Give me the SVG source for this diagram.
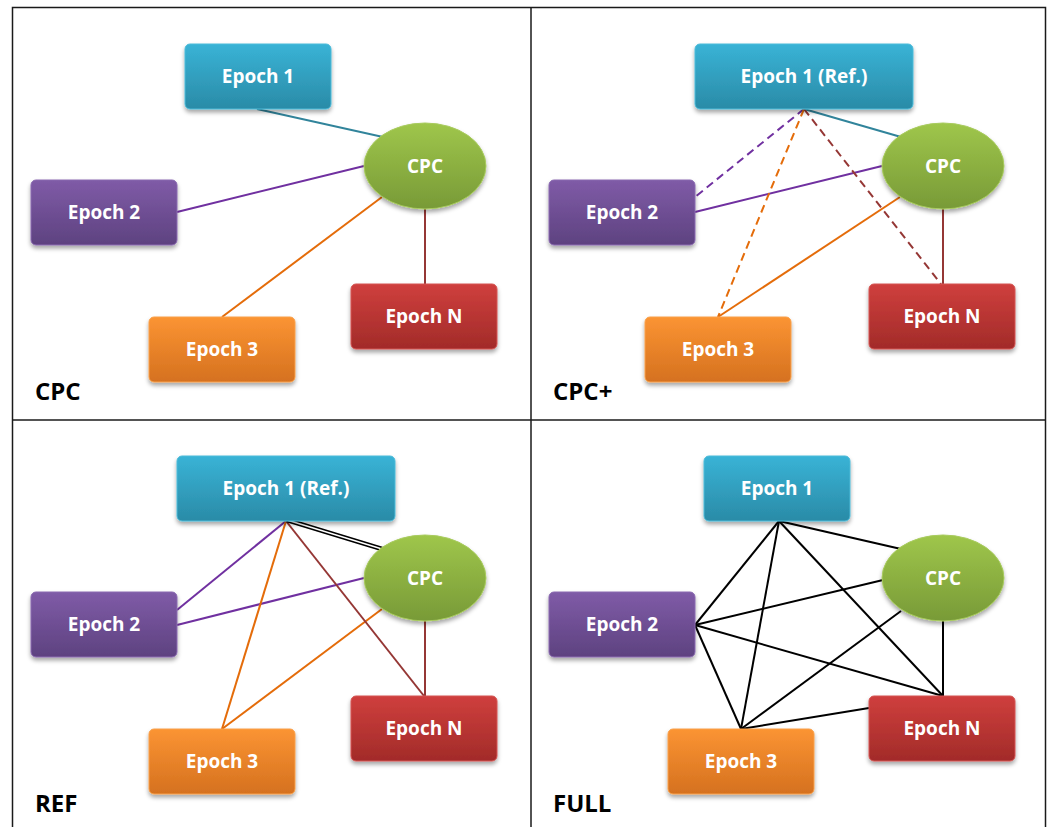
<svg xmlns="http://www.w3.org/2000/svg" width="1055" height="827" viewBox="0 0 1055 827">
<defs>
<linearGradient id="gTeal" x1="0" y1="0" x2="0" y2="1"><stop offset="0" stop-color="#39B3D6"/><stop offset="1" stop-color="#2A8BA7"/></linearGradient>
<linearGradient id="gPurple" x1="0" y1="0" x2="0" y2="1"><stop offset="0" stop-color="#7F5BA7"/><stop offset="1" stop-color="#5E4280"/></linearGradient>
<linearGradient id="gOrange" x1="0" y1="0" x2="0" y2="1"><stop offset="0" stop-color="#FB9433"/><stop offset="1" stop-color="#D5711F"/></linearGradient>
<linearGradient id="gRed" x1="0" y1="0" x2="0" y2="1"><stop offset="0" stop-color="#CF3F3D"/><stop offset="1" stop-color="#A22B29"/></linearGradient>
<linearGradient id="gGreen" x1="0" y1="0" x2="0" y2="1"><stop offset="0" stop-color="#9FC64B"/><stop offset="1" stop-color="#789A37"/></linearGradient>
<filter id="sh" x="-20%" y="-20%" width="140%" height="150%"><feDropShadow dx="0" dy="3" stdDeviation="2" flood-color="#000" flood-opacity="0.35"/></filter>
</defs>
<style>
.frame{fill:none;stroke:#1a1a1a;stroke-width:1.5}
.box{filter:url(#sh);stroke-width:1}
.teal{fill:url(#gTeal);stroke:#4DBBD9}
.purple{fill:url(#gPurple);stroke:#8A6AB0}
.orange{fill:url(#gOrange);stroke:#F9A04A}
.red{fill:url(#gRed);stroke:#D45552}
.green{fill:url(#gGreen);stroke:#A8CB5E}
.lbl{font-family:"Open Sans","Liberation Sans",sans-serif;font-weight:700;font-size:19px;fill:#fff;text-anchor:middle}
.title{font-family:"Open Sans","Liberation Sans",sans-serif;font-weight:700;font-size:24px;fill:#000}
.c{fill:none;stroke-width:2}
.cT{stroke:#31849B}
.cP{stroke:#7030A0}
.cO{stroke:#E46C0A}
.cR{stroke:#953735}
.cK{stroke:#000}
.d{stroke-dasharray:8 5}
</style>

<g id="frame">
<rect class="frame" x="12.5" y="7.5" width="1033" height="830"/>
<line class="frame" x1="531" y1="7.5" x2="531" y2="830"/>
<line class="frame" x1="12.5" y1="420" x2="1045.5" y2="420"/>
</g>

<g id="connectors">
<!-- Q1 CPC -->
<line class="c cT" x1="257" y1="109" x2="383" y2="137"/>
<line class="c cP" x1="177" y1="212" x2="364" y2="166"/>
<line class="c cO" x1="222" y1="317" x2="382" y2="197"/>
<line class="c cR" x1="425" y1="209" x2="425" y2="284"/>
<!-- Q2 CPC+ -->
<line class="c cT" x1="804" y1="109" x2="901" y2="137"/>
<line class="c cP" x1="695" y1="212" x2="882" y2="166"/>
<line class="c cO" x1="718" y1="317" x2="900" y2="197"/>
<line class="c cR" x1="943" y1="209" x2="943" y2="284"/>
<line class="c cP d" x1="804" y1="109" x2="695" y2="197"/>
<line class="c cO d" x1="804" y1="109" x2="718" y2="317"/>
<line class="c cR d" x1="804" y1="109" x2="941" y2="284"/>
<!-- Q3 REF -->
<line class="c cP" x1="286" y1="521" x2="177" y2="610"/>
<line class="c cP" x1="177" y1="625" x2="364" y2="578"/>
<line class="c cO" x1="286" y1="521" x2="222" y2="729"/>
<line class="c cO" x1="222" y1="729" x2="382" y2="609"/>
<line class="c cR" x1="286" y1="521" x2="424" y2="696"/>
<line class="c cR" x1="425" y1="621" x2="425" y2="696"/>
<line fill="none" stroke="#000" stroke-width="4.5" x1="287" y1="520" x2="382" y2="549"/>
<line fill="none" stroke="#fff" stroke-width="1.5" x1="287" y1="520" x2="382" y2="549"/>
<!-- Q4 FULL -->
<line class="c cK" x1="779" y1="521" x2="901" y2="549"/>
<line class="c cK" x1="779" y1="521" x2="695" y2="625"/>
<line class="c cK" x1="779" y1="521" x2="741" y2="729"/>
<line class="c cK" x1="779" y1="521" x2="943" y2="696"/>
<line class="c cK" x1="695" y1="625" x2="883" y2="580"/>
<line class="c cK" x1="695" y1="625" x2="741" y2="729"/>
<line class="c cK" x1="695" y1="625" x2="943" y2="696"/>
<line class="c cK" x1="741" y1="729" x2="901" y2="611"/>
<line class="c cK" x1="741" y1="729" x2="869" y2="708"/>
<line class="c cK" x1="943" y1="621" x2="943" y2="696"/>
</g>

<!-- Q1 -->
<g id="q1-epoch1"><rect class="box teal" x="185" y="44" width="146" height="65" rx="5"/><text class="lbl" x="258" y="83">Epoch 1</text></g>
<g id="q1-epoch2"><rect class="box purple" x="31" y="180" width="146" height="65" rx="5"/><text class="lbl" x="104" y="219">Epoch 2</text></g>
<g id="q1-epoch3"><rect class="box orange" x="149" y="317" width="146" height="65" rx="5"/><text class="lbl" x="222" y="356">Epoch 3</text></g>
<g id="q1-epochN"><rect class="box red" x="351" y="284" width="146" height="65" rx="5"/><text class="lbl" x="424" y="323">Epoch N</text></g>
<g id="q1-cpc"><ellipse class="box green" cx="425" cy="166" rx="61" ry="43"/><text class="lbl" x="425" y="173">CPC</text></g>
<text class="title" x="35" y="400">CPC</text>

<!-- Q2 -->
<g id="q2-epoch1"><rect class="box teal" x="695" y="44" width="218" height="65" rx="5"/><text class="lbl" x="804" y="83">Epoch 1 (Ref.)</text></g>
<g id="q2-epoch2"><rect class="box purple" x="549" y="180" width="146" height="65" rx="5"/><text class="lbl" x="622" y="219">Epoch 2</text></g>
<g id="q2-epoch3"><rect class="box orange" x="645" y="317" width="146" height="65" rx="5"/><text class="lbl" x="718" y="356">Epoch 3</text></g>
<g id="q2-epochN"><rect class="box red" x="869" y="284" width="146" height="65" rx="5"/><text class="lbl" x="942" y="323">Epoch N</text></g>
<g id="q2-cpc"><ellipse class="box green" cx="943" cy="166" rx="61" ry="43"/><text class="lbl" x="943" y="173">CPC</text></g>
<text class="title" x="553" y="400">CPC+</text>

<!-- Q3 -->
<g id="q3-epoch1"><rect class="box teal" x="177" y="456" width="218" height="65" rx="5"/><text class="lbl" x="286" y="495">Epoch 1 (Ref.)</text></g>
<g id="q3-epoch2"><rect class="box purple" x="31" y="592" width="146" height="65" rx="5"/><text class="lbl" x="104" y="631">Epoch 2</text></g>
<g id="q3-epoch3"><rect class="box orange" x="149" y="729" width="146" height="65" rx="5"/><text class="lbl" x="222" y="768">Epoch 3</text></g>
<g id="q3-epochN"><rect class="box red" x="351" y="696" width="146" height="65" rx="5"/><text class="lbl" x="424" y="735">Epoch N</text></g>
<g id="q3-cpc"><ellipse class="box green" cx="425" cy="578" rx="61" ry="43"/><text class="lbl" x="425" y="585">CPC</text></g>
<text class="title" x="35" y="812">REF</text>

<!-- Q4 -->
<g id="q4-epoch1"><rect class="box teal" x="704" y="456" width="146" height="65" rx="5"/><text class="lbl" x="777" y="495">Epoch 1</text></g>
<g id="q4-epoch2"><rect class="box purple" x="549" y="592" width="146" height="65" rx="5"/><text class="lbl" x="622" y="631">Epoch 2</text></g>
<g id="q4-epoch3"><rect class="box orange" x="668" y="729" width="146" height="65" rx="5"/><text class="lbl" x="741" y="768">Epoch 3</text></g>
<g id="q4-epochN"><rect class="box red" x="869" y="696" width="146" height="65" rx="5"/><text class="lbl" x="942" y="735">Epoch N</text></g>
<g id="q4-cpc"><ellipse class="box green" cx="943" cy="578" rx="61" ry="43"/><text class="lbl" x="943" y="585">CPC</text></g>
<text class="title" x="553" y="812">FULL</text>
</svg>
